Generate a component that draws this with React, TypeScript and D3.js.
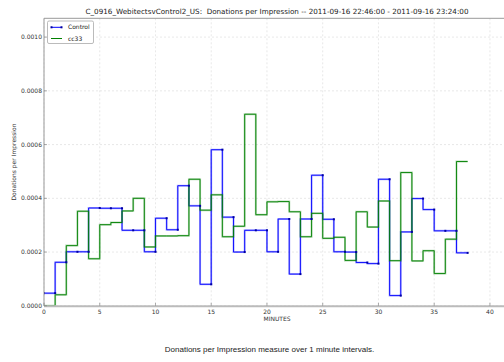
import React from "react";
import * as d3 from "d3";

const controlValues = [
  0.000047, 0.000162, 0.000201, 0.000201, 0.000364, 0.000363, 0.000363, 0.000281,
  0.000281, 0.000201, 0.000326, 0.000283, 0.000447, 0.000372, 0.00008, 0.000581,
  0.00033, 0.0002, 0.000281, 0.000281, 0.000201, 0.000323, 0.000118, 0.000323,
  0.000486, 0.000322, 0.000201, 0.0002, 0.000161, 0.000157, 0.000471, 0.000038,
  0.000275, 0.000399, 0.000358, 0.000279, 0.000279, 0.000197,
];
const cc33Values = [
  0, 0.000041, 0.000224, 0.000352, 0.000175, 0.000302, 0.00031, 0.000353,
  0.0004, 0.000219, 0.00026, 0.00026, 0.000261, 0.000471, 0.000356, 0.000413,
  0.000257, 0.000296, 0.000713, 0.000339, 0.000387, 0.000388, 0.00035, 0.000257,
  0.000344, 0.000251, 0.000255, 0.000169, 0.00035, 0.000293, 0.00039, 0.000168,
  0.000496, 0.000167, 0.000205, 0.00012, 0.000248, 0.000537,
];
const xTicks = [0, 5, 10, 15, 20, 25, 30, 35, 40];
const yTicks = [0, 0.0002, 0.0004, 0.0006, 0.0008, 0.001];
const seriesNames = ["Control", "cc33"];
const seriesColors = ["#0000ff", "#008000"];
const title =
  "C_0916_WebitectsvControl2_US:  Donations per Impression -- 2011-09-16 22:46:00 - 2011-09-16 23:24:00";
const caption = "Donations per Impression measure over 1 minute intervals.";

const W = 504;
const H = 362;
const L = 44, R = 510, T = 18.3, B = 305.8;
const FONT = "DejaVu Sans, sans-serif";

export default function App() {
  const x = d3.scaleLinear().domain([0, 41.8]).range([L, R]);
  const y = d3.scaleLinear().domain([0, 0.00107]).range([B, T]);
  const stepLine = d3
    .line<[number, number]>()
    .x((d) => x(d[0]))
    .y((d) => y(d[1]))
    .curve(d3.curveStepAfter);
  const pts = (vals: number[]): [number, number][] => {
    const p: [number, number][] = vals.map((v, i) => [i, v]);
    p.push([vals.length, vals[vals.length - 1]]);
    return p;
  };
  const markerPts: [number, number][] = [[0, controlValues[0]], ...controlValues.map((v, i) => [i + 1, v] as [number, number])];

  return (
    <svg width={W} height={H} style={{ position: "absolute", left: 0, top: 0, background: "#fff" }} fontFamily={FONT}>
      <defs>
        <clipPath id="plot">
          <rect x={L} y={T} width={R - L} height={B - T} />
        </clipPath>
      </defs>
      <rect x={0} y={0} width={W} height={H} fill="#fff" />
      {xTicks.map((t) => (
        <line key={"gx" + t} x1={x(t)} x2={x(t)} y1={T} y2={B} stroke="#d8d8d8" strokeWidth={0.6} strokeDasharray="2,2" />
      ))}
      {yTicks.map((t) => (
        <line key={"gy" + t} x1={L} x2={R} y1={y(t)} y2={y(t)} stroke="#d8d8d8" strokeWidth={0.6} strokeDasharray="2,2" />
      ))}
      <g clipPath="url(#plot)">
        <path d={stepLine(pts(controlValues)) || ""} fill="none" stroke={seriesColors[0]} strokeOpacity={0.3} strokeWidth={2} />
        <path d={stepLine(pts(controlValues)) || ""} fill="none" stroke={seriesColors[0]} strokeWidth={0.9} />
        <path d={stepLine(pts(cc33Values)) || ""} fill="none" stroke={seriesColors[1]} strokeOpacity={0.3} strokeWidth={2} />
        <path d={stepLine(pts(cc33Values)) || ""} fill="none" stroke={seriesColors[1]} strokeWidth={0.9} />
        {markerPts.map((d, i) => (
          <rect key={"m" + i} x={x(d[0]) - 1} y={y(d[1]) - 1} width={2} height={2} fill="#0000a0" />
        ))}
      </g>
      <line x1={L} x2={R} y1={T} y2={T} stroke="#999" strokeWidth={1} />
      <line x1={L} x2={L} y1={T} y2={B} stroke="#999" strokeWidth={1} />
      <line x1={L} x2={R} y1={B + 0.5} y2={B + 0.5} stroke="#bbb" strokeWidth={2} />
      {yTicks.map((t) => (
        <g key={"yt" + t}>
          <line x1={L} x2={L + 3} y1={y(t)} y2={y(t)} stroke="#777" strokeWidth={0.6} />
          <text x={L - 2} y={y(t)} dy="0.35em" textAnchor="end" fontSize={6} fill="#333">
            {t.toFixed(4)}
          </text>
        </g>
      ))}
      {xTicks.map((t) => (
        <g key={"xt" + t}>
          <line x1={x(t)} x2={x(t)} y1={B} y2={B - 3} stroke="#777" strokeWidth={0.6} />
          <text x={x(t)} y={B + 8} textAnchor="middle" fontSize={6} fill="#333">
            {t}
          </text>
        </g>
      ))}
      <text x={(L + R) / 2} y={B + 15} textAnchor="middle" fontSize={6} fill="#333">
        MINUTES
      </text>
      <text transform={`translate(16,${(T + B) / 2}) rotate(-90)`} textAnchor="middle" fontSize={6} fill="#333">
        Donations per Impression
      </text>
      <text x={(L + R) / 2} y={14} textAnchor="middle" fontSize={7.2} fill="#222" style={{ whiteSpace: "pre" }}>
        {title}
      </text>
      <text x={269.5} y={352} textAnchor="middle" fontSize={8} fontFamily="Liberation Sans, Arial, sans-serif" fill="#222">
        {caption}
      </text>
      <g>
        <rect x={47.5} y={21} width={46} height={22.5} rx={1.5} fill="#fff" stroke="#aaa" strokeWidth={0.8} />
        {seriesNames.map((n, i) => {
          const ly = 27.3 + i * 11.2;
          return (
            <g key={n}>
              <line x1={51} x2={62} y1={ly} y2={ly} stroke={seriesColors[i]} strokeWidth={1} />
              {i === 0 && (
                <>
                  <rect x={50.5} y={ly - 1} width={2} height={2} fill="#0000a0" />
                  <rect x={60.5} y={ly - 1} width={2} height={2} fill="#0000a0" />
                </>
              )}
              <text x={68} y={ly} dy="0.35em" fontSize={6} fill="#222">
                {n}
              </text>
            </g>
          );
        })}
      </g>
    </svg>
  );
}
